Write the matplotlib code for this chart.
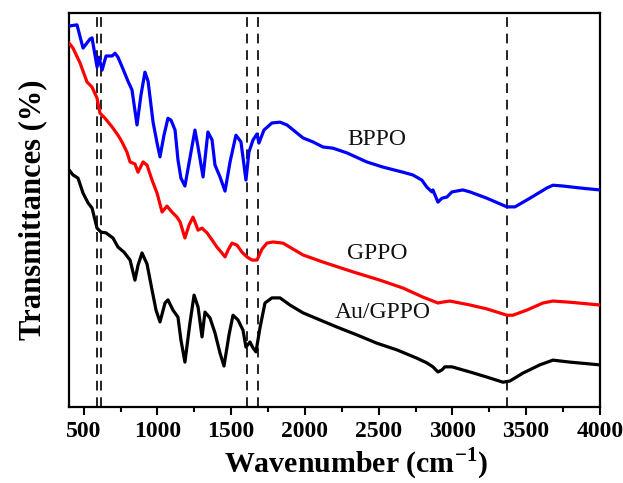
import matplotlib
matplotlib.use("Agg")
import matplotlib.pyplot as plt
from matplotlib.ticker import MultipleLocator, NullLocator

plt.rcParams['font.family'] = ['Liberation Serif', 'DejaVu Serif']
plt.rcParams['mathtext.fontset'] = 'custom'
plt.rcParams['mathtext.rm'] = 'Liberation Serif'
plt.rcParams['mathtext.bf'] = 'Liberation Serif:bold'

# ---- data (wavenumber in cm-1, transmittance in arbitrary offset units) ----
bppo_wn = [400, 454, 495, 542, 556, 590, 603, 624, 651, 692, 712, 732, 766, 800, 827, 861, 888, 915,
           936, 970, 997, 1017, 1044, 1071, 1092, 1119, 1139, 1159, 1186, 1220, 1254, 1275, 1309, 1342,
           1370, 1390, 1424, 1458, 1492, 1532, 1566, 1600, 1620, 1648, 1675, 1688, 1722, 1776, 1831,
           1878, 1987, 2054, 2122, 2190, 2285, 2420, 2529, 2665, 2732, 2793, 2827, 2861, 2868, 2902,
           2929, 2963, 2997, 3071, 3119, 3234, 3370, 3424, 3526, 3641, 3682, 3749, 3865, 4000]
bppo_t = [96.7, 97.0, 91.1, 93.4, 93.7, 86.3, 88.8, 85.5, 89.1, 89.1, 89.8, 88.8, 85.8, 82.7, 80.5, 71.6,
          79.2, 85.0, 82.7, 72.3, 67.0, 63.5, 69.0, 73.3, 72.8, 70.3, 62.7, 58.1, 56.1, 63.2, 70.3, 66.0,
          58.4, 69.8, 67.8, 61.4, 58.4, 54.8, 62.2, 69.0, 67.3, 57.6, 64.7, 67.8, 69.3, 67.0, 70.3, 72.1,
          72.3, 71.6, 68.3, 67.3, 66.0, 65.7, 64.5, 62.2, 60.9, 59.6, 58.9, 57.6, 55.8, 54.6, 55.1, 52.0,
          53.0, 53.3, 54.6, 55.1, 54.6, 53.0, 50.8, 50.8, 53.0, 55.6, 56.3, 56.1, 55.6, 55.1]

gppo_wn = [400, 427, 475, 522, 556, 590, 610, 644, 692, 732, 759, 793, 814, 847, 868, 902, 929, 963,
           997, 1031, 1064, 1098, 1132, 1153, 1186, 1214, 1241, 1254, 1275, 1302, 1336, 1370, 1403,
           1437, 1458, 1478, 1505, 1539, 1573, 1607, 1641, 1675, 1709, 1742, 1783, 1851, 1987, 2122,
           2326, 2509, 2665, 2800, 2848, 2902, 2929, 2983, 3119, 3234, 3370, 3410, 3505, 3614, 3682,
           3797, 4000]
gppo_t = [92.4, 91.1, 87.3, 82.5, 81.2, 78.4, 74.6, 73.3, 71.1, 69.0, 67.3, 64.7, 62.2, 61.7, 59.6,
          62.2, 61.4, 57.6, 54.3, 49.5, 51.0, 49.5, 48.2, 47.0, 42.9, 46.2, 48.2, 47.0, 44.9, 45.4, 44.2,
          42.4, 40.6, 39.1, 38.1, 39.8, 41.6, 41.1, 39.3, 38.1, 37.3, 37.3, 40.1, 41.6, 41.9, 41.6, 38.6,
          36.8, 34.3, 32.2, 30.2, 27.9, 27.2, 26.4, 26.6, 26.9, 25.9, 24.9, 23.3, 23.3, 24.6, 26.4, 26.9,
          26.6, 25.9]

augppo_wn = [400, 427, 461, 495, 529, 556, 590, 617, 651, 698, 732, 773, 814, 847, 868, 895, 929, 963,
             990, 1017, 1051, 1071, 1105, 1139, 1159, 1186, 1220, 1248, 1275, 1302, 1322, 1356, 1390,
             1424, 1451, 1485, 1512, 1546, 1580, 1600, 1627, 1648, 1668, 1695, 1729, 1776, 1831, 1898,
             1987, 2102, 2217, 2353, 2488, 2624, 2759, 2827, 2868, 2902, 2929, 2949, 2997, 3119, 3234,
             3343, 3390, 3478, 3593, 3682, 3797, 4000]
augppo_t = [60.2, 58.9, 58.1, 54.3, 51.8, 50.5, 45.4, 44.4, 44.2, 42.9, 40.6, 39.3, 37.3, 32.2, 36.0,
            39.1, 36.3, 29.7, 24.6, 21.6, 26.4, 27.2, 24.6, 22.8, 17.0, 11.4, 21.3, 28.4, 25.4, 17.8,
            24.1, 22.6, 18.8, 13.7, 10.4, 18.3, 23.3, 22.1, 19.5, 15.2, 16.5, 15.0, 14.0, 20.1, 26.4,
            27.7, 27.7, 25.9, 23.9, 22.1, 20.3, 18.3, 16.2, 14.5, 12.4, 11.2, 10.2, 8.9, 9.4, 10.2, 10.2,
            8.9, 7.6, 6.3, 6.6, 8.6, 10.7, 11.9, 11.4, 10.7]

ref_lines = [590, 620, 1605, 1680, 3370]

labels = ['BPPO', 'GPPO', 'Au/GPPO']
label_wn = [2490, 2490, 2525]
label_t = [68.0, 39.0, 24.0]
colors = ['#0000ff', '#ff0000', '#000000']

fig = plt.figure(figsize=(6.23, 4.83), dpi=100)
ax = fig.add_axes([0.1108, 0.1573, 0.852, 0.8157])

for x in ref_lines:
    ax.axvline(x, color='#222222', lw=1.4, ls=(0, (5, 3.5)), zorder=1)

series = [(bppo_wn, bppo_t), (gppo_wn, gppo_t), (augppo_wn, augppo_t)]
for (wn, t), c in zip(series, colors):
    ax.plot(wn, t, color=c, lw=2.3, zorder=3, solid_joinstyle='round', solid_capstyle='round')

for lab, x, y in zip(labels, label_wn, label_t):
    ax.text(x, y, lab, fontsize=17, ha='center', va='center', color='#111111')

ax.set_xlim(400, 4000)
ax.set_ylim(0, 100)
ax.xaxis.set_major_locator(MultipleLocator(500))
ax.xaxis.set_minor_locator(MultipleLocator(250))
ax.yaxis.set_major_locator(NullLocator())
ax.tick_params(axis='x', which='major', direction='out', length=6, width=1.5,
               labelsize=17, pad=4)
ax.tick_params(axis='x', which='minor', direction='out', length=3.5, width=1.5)
for lbl in ax.get_xticklabels():
    lbl.set_fontweight('bold')
for s in ax.spines.values():
    s.set_linewidth(1.6)

ax.set_xlabel(r'Wavenumber (cm$^{\mathbf{-1}}$)', fontsize=21.5, fontweight='bold')
ax.xaxis.set_label_coords(0.54, -0.098)
ax.set_ylabel('Transmittances (%)', fontsize=22, fontweight='bold', labelpad=16)

fig.savefig('out.png', dpi=100)
